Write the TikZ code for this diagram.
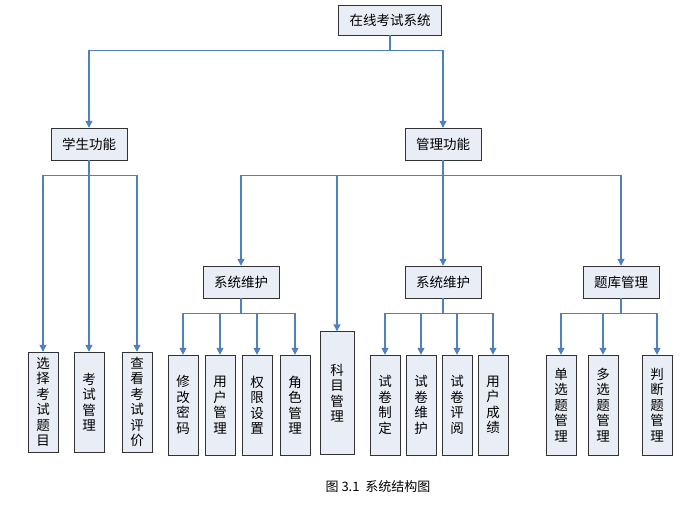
\documentclass[tikz,border=0pt]{standalone}
\usepackage{fontspec}
\setmainfont{Noto Sans CJK SC}
\usetikzlibrary{arrows.meta, positioning}
\definecolor{linkblue}{HTML}{4F81BD}
\definecolor{boxfill}{HTML}{E9EDF5}

\begin{document}
\begin{tikzpicture}[
    x=1pt, y=-1pt,
    hbox/.style={rectangle, draw=black!80, fill=boxfill, minimum width=76pt, minimum height=32pt, font=\fontsize{13.5}{15}\selectfont},
    vbox/.style={rectangle, draw=black!80, fill=boxfill, minimum width=30pt, minimum height=100pt, inner sep=1pt, align=center, font=\fontsize{13.5}{15.5}\selectfont},
    link/.style={linkblue, line width=1.2pt},
    arrow/.style={link, -{Triangle[width=7pt,length=7pt]}}
]
\useasboundingbox (0,0) rectangle (700,516);

% top levels
\node[hbox, minimum width=103pt, minimum height=30pt] (root) at (390,20) {在线考试系统};
\node[hbox] (student) at (89,144) {学生功能};
\node[hbox] (manage) at (443,144) {管理功能};

% student functions
\node[vbox] (s1) at (43,402) {选\\择\\考\\试\\题\\目};
\node[vbox] (s2) at (89,402) {考\\试\\管\\理};
\node[vbox] (s3) at (137,402) {查\\看\\考\\试\\评\\价};

% management level
\node[hbox] (sys1) at (241,282) {系统维护};
\node[vbox, minimum width=34pt, minimum height=123pt] (subject) at (337,393) {科\\目\\管\\理};
\node[hbox] (sys2) at (443,282) {系统维护};
\node[hbox] (bank) at (621,282) {题库管理};

% leaves
\node[vbox] (m1) at (183,405) {修\\改\\密\\码};
\node[vbox] (m2) at (220,405) {用\\户\\管\\理};
\node[vbox] (m3) at (257,405) {权\\限\\设\\置};
\node[vbox] (m4) at (295,405) {角\\色\\管\\理};
\node[vbox] (p1) at (385,405) {试\\卷\\制\\定};
\node[vbox] (p2) at (421,405) {试\\卷\\维\\护};
\node[vbox] (p3) at (457,405) {试\\卷\\评\\阅};
\node[vbox] (p4) at (493,405) {用\\户\\成\\绩};
\node[vbox] (q1) at (561,405) {单\\选\\题\\管\\理};
\node[vbox] (q2) at (603,405) {多\\选\\题\\管\\理};
\node[vbox] (q3) at (657,405) {判\\断\\题\\管\\理};

\node[font=\fontsize{13}{15}\selectfont] (caption) at (378,487) {图 3.1\ \ 系统结构图};

% connectors
\draw[link] (root.south) -- ++(0,15) coordinate (rb);
\draw[arrow] (rb) -| (student.north);
\draw[arrow] (rb) -| (manage.north);

\draw[link] (student.south) -- ++(0,15) coordinate (sb);
\foreach \c in {s1,s2,s3} \draw[arrow] (sb) -| (\c.north);

\draw[link] (manage.south) -- ++(0,15) coordinate (mb);
\foreach \c in {sys1,subject,sys2,bank} \draw[arrow] (mb) -| (\c.north);

\foreach \p/\kids in {sys1/{m1,m2,m3,m4}, sys2/{p1,p2,p3,p4}, bank/{q1,q2,q3}} {
  \draw[link] (\p.south) -- ++(0,15) coordinate (pb);
  \foreach \c in \kids \draw[arrow] (pb) -| (\c.north);
}
\end{tikzpicture}
\end{document}
